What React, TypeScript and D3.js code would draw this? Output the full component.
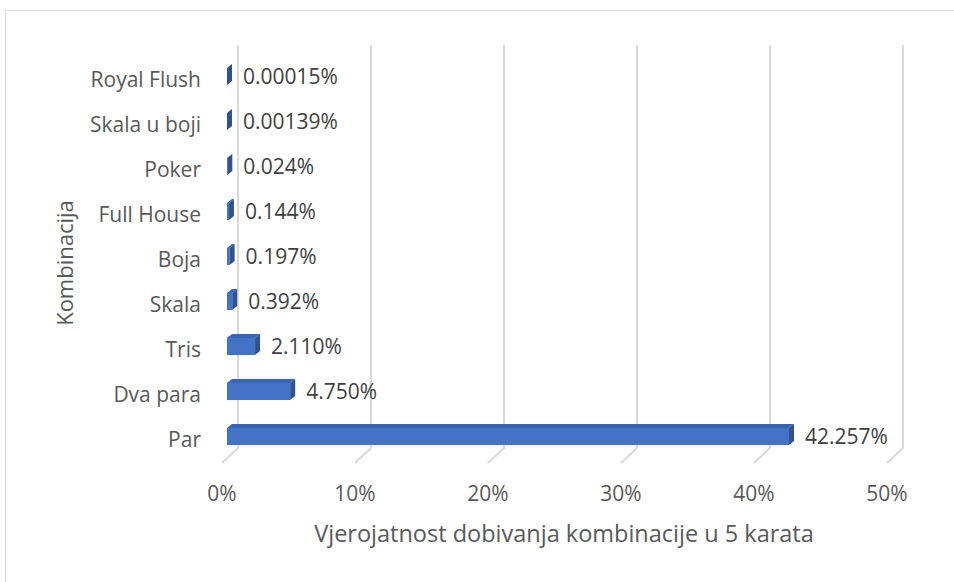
import React, { useEffect } from 'react';
import * as d3 from 'd3';

const categories = ['Royal Flush', 'Skala u boji', 'Poker', 'Full House', 'Boja', 'Skala', 'Tris', 'Dva para', 'Par'];
const values = [0.00015, 0.00139, 0.024, 0.144, 0.197, 0.392, 2.11, 4.75, 42.257];
const valueLabels = ['0.00015%', '0.00139%', '0.024%', '0.144%', '0.197%', '0.392%', '2.110%', '4.750%', '42.257%'];
const xTicks = [0, 10, 20, 30, 40, 50];

const W = 954;
const H = 582;
const FONT = '"Open Sans", sans-serif';

// 3D offsets (bar depth, and the back wall relative to the floor front)
const barDx = 5;
const barDy = -4;
const wallDx = 16;
const wallDy = -15;

const App: React.FC = () => {
  useEffect(() => {
    document.body.style.margin = '0';
  }, []);

  const x = d3.scaleLinear().domain([0, 50]).range([222, 887]);
  const y = d3.scaleBand<string>()
    .domain(categories)
    .range([54, 459])
    .paddingInner(0.62)
    .paddingOuter(0.31);

  const barX0 = x(0) + 5;
  const gridTop = 45;
  const floorY = 463;

  return (
    <svg width={W} height={H} style={{ display: 'block', fontFamily: FONT }}>
      <rect x={0} y={0} width={W} height={H} fill="#fff" />
      <rect x={5.5} y={10.5} width={W + 10} height={H + 10} fill="none" stroke="#d9d9d9" strokeWidth={1} />

      {/* gridlines: back wall + floor foot */}
      {xTicks.map(t => {
        const fx = x(t);
        const bx = fx + wallDx;
        return (
          <path
            key={t}
            d={`M${bx},${gridTop} L${bx},${floorY + wallDy} L${fx},${floorY}`}
            fill="none"
            stroke="#d9d9d9"
            strokeWidth={2}
          />
        );
      })}

      {/* bars */}
      {categories.map((c, i) => {
        const top = y(c)!;
        const bot = top + y.bandwidth();
        const xe = barX0 + (x(values[i]) - x(0));
        const mid = (top + bot) / 2;
        return (
          <g key={c}>
            <rect x={barX0} y={top} width={Math.max(xe - barX0, 0)} height={bot - top} fill="#4472c4" />
            <path
              d={`M${barX0},${top} L${barX0 + barDx},${top + barDy} L${xe + barDx},${top + barDy} L${xe},${top} Z`}
              fill="#3b64b0"
            />
            <path
              d={`M${xe},${top} L${xe + barDx},${top + barDy} L${xe + barDx},${bot + barDy} L${xe},${bot} Z`}
              fill="#2f5291"
            />
            <text
              x={xe + barDx + 11}
              y={mid + 2}
              dominantBaseline="middle"
              fontSize={21}
              fill="#404040"
            >
              {valueLabels[i]}
            </text>
            <text
              x={201}
              y={mid + 5}
              dominantBaseline="middle"
              textAnchor="end"
              fontSize={21}
              fill="#595959"
            >
              {c}
            </text>
          </g>
        );
      })}

      {/* x tick labels */}
      {xTicks.map(t => (
        <text key={t} x={x(t)} y={495} textAnchor="middle" dominantBaseline="middle" fontSize={21} fill="#595959">
          {t}%
        </text>
      ))}

      {/* axis titles */}
      <text x={564} y={536} textAnchor="middle" dominantBaseline="middle" fontSize={23.5} fill="#595959">
        Vjerojatnost dobivanja kombinacije u 5 karata
      </text>
      <text
        transform={`translate(67,263) rotate(-90)`}
        textAnchor="middle"
        dominantBaseline="middle"
        fontSize={22}
        fill="#595959"
      >
        Kombinacija
      </text>
    </svg>
  );
};

export default App;
